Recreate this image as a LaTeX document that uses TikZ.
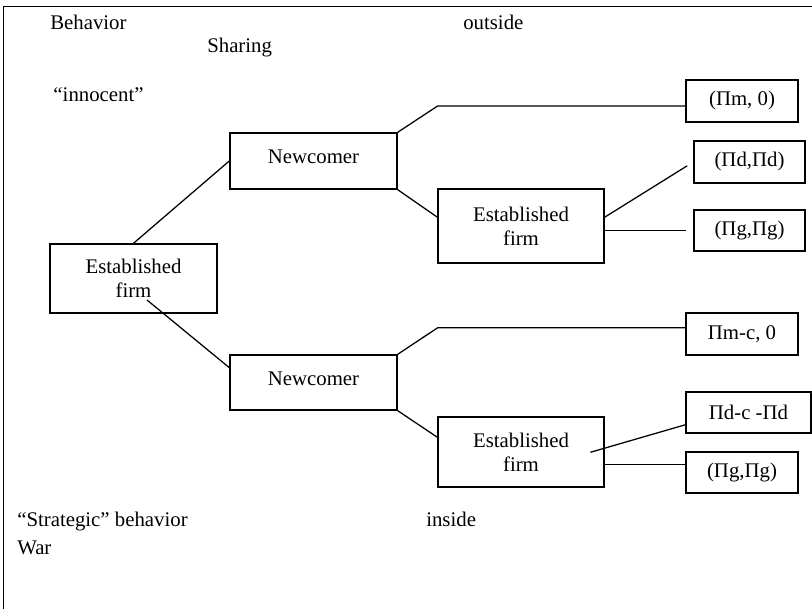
\documentclass[tikz,border=0pt]{standalone}
\usepackage{fontspec}
\setmainfont{Liberation Serif}

\begin{document}
\begin{tikzpicture}[
    font = \fontsize{14.8pt}{17pt}\selectfont,
    box/.style = {draw, line width = 1pt, align = center, inner sep = 0pt},
    word/.style = {anchor = base west, inner sep = 0pt},
    link/.style = {line width = 0.9pt},
    gap/.style = {shorten > = 0.18cm}
  ]
  \useasboundingbox (0, 0) rectangle (20.3, 15.225);
  % 外框
  \draw [line width = 1.3pt] (0.0875, 0) -- (0.0875, 15.0625) -- (20.3, 15.0625);

  % 文字
  \node [word] (behavior) at (1.25, 14.49) {Behavior};
  \node [word] (sharing) at (5.175, 13.92) {Sharing};
  \node [word] (innocent) at (1.33, 12.68) {“innocent”};
  \node [word] (outside) at (11.575, 14.49) {outside};
  \node [word] (strategic) at (0.425, 2.06) {“Strategic” behavior};
  \node [word] (war) at (0.425, 1.35) {War};
  \node [word] (inside) at (10.65, 2.06) {inside};

  % 决策方框
  \node [box, minimum width = 4.175cm, minimum height = 1.725cm] (firm0) at (3.3375, 8.2625) {Established\\firm};
  \node [box, minimum width = 4.175cm, minimum height = 1.4cm] (new1) at (7.8375, 11.2) {Newcomer\\[-0.4cm]};
  \node [box, minimum width = 4.175cm, minimum height = 1.375cm] (new2) at (7.8375, 5.6625) {Newcomer\\[-0.4cm]};
  \node [box, minimum width = 4.15cm, minimum height = 1.85cm] (firm1) at (13.025, 9.575) {Established\\firm};
  \node [box, minimum width = 4.15cm, minimum height = 1.75cm] (firm2) at (13.025, 3.925) {Established\\firm};

  % 收益方框
  \node [box, minimum width = 2.8cm, minimum height = 1.05cm] (m0) at (18.55, 12.7) {(Πm, 0)};
  \node [box, minimum width = 2.775cm, minimum height = 1.05cm] (d) at (18.7375, 11.175) {(Πd,Πd)};
  \node [box, minimum width = 2.775cm, minimum height = 1.025cm] (g1) at (18.7375, 9.4625) {(Πg,Πg)};
  \node [box, minimum width = 2.8cm, minimum height = 1.05cm] (mc) at (18.55, 6.875) {Πm-c, 0};
  \node [box, minimum width = 3.125cm, minimum height = 1.025cm] (dc) at (18.7125, 4.9125) {Πd-c -Πd};
  \node [box, minimum width = 2.8cm, minimum height = 1.025cm] (g2) at (18.55, 3.4125) {(Πg,Πg)};

  % 连线的折点和起点
  \coordinate (b1) at (10.94, 12.575);
  \coordinate (b2) at (10.94, 7.03);
  \coordinate (s0) at (3.675, 7.725);
  \coordinate (s2) at (14.76, 3.9175);

  % 连线
  \draw [link] (firm0.north) -- (new1.west);
  \draw [link] (s0) -- (new2.170);
  \draw [link] (new1.north east) -- (b1) -- (b1 -| m0.west);
  \draw [link] (new1.south east) -- (firm1.174);
  \draw [link, gap] (firm1.6) -- (d.west);
  \draw [link, gap] (firm1.east |- g1.west) -- (g1.west);
  \draw [link] (new2.north east) -- (b2) -- (b2 -| mc.west);
  \draw [link] (new2.south east) -- (firm2.170);
  \draw [link] (s2) -- (dc.191);
  \draw [link] (firm2.east |- g2.172) -- (g2.172);
\end{tikzpicture}
\end{document}
